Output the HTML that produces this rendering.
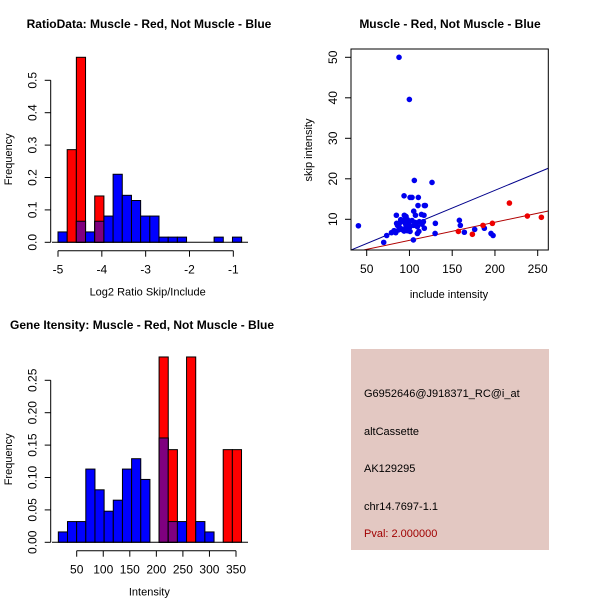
<!DOCTYPE html>
<html><head><meta charset="utf-8"><style>
html,body{margin:0;padding:0;background:#fff}
svg{display:block;font-family:"Liberation Sans",sans-serif}
</style></head><body>
<svg id="c" width="600" height="600" xmlns="http://www.w3.org/2000/svg">
<rect width="600" height="600" fill="#fff"/>
<text x="149" y="28" font-size="12" font-weight="bold" text-anchor="middle">RatioData: Muscle - Red, Not Muscle - Blue</text>
<text x="450" y="28" font-size="12" font-weight="bold" text-anchor="middle">Muscle - Red, Not Muscle - Blue</text>
<text x="10" y="329" font-size="12" font-weight="bold">Gene Itensity: Muscle - Red, Not Muscle - Blue</text>
<g id="h1"></g>
<g id="sc"></g>
<g id="h2"></g>
<g>
<rect x="351" y="349" width="198" height="201" fill="#e3c8c2"/>
<text x="364" y="397" font-size="11">G6952646@J918371_RC@i_at</text>
<text x="364" y="435" font-size="11">altCassette</text>
<text x="364" y="472" font-size="11">AK129295</text>
<text x="364" y="510" font-size="11">chr14.7697-1.1</text>
<text x="364" y="537" font-size="11" fill="#a00000">Pval: 2.000000</text>
</g>
</svg>
<script>
// Ratio histogram data
const ratioBinStart=-5.0, ratioBinWidth=0.2095;
const ratioBlue=[0.032,0,0.065,0.032,0.065,0.081,0.21,0.145,0.129,0.081,0.081,0.016,0.016,0.016,0,0,0,0.016,0,0.016];
const ratioRed=[0,0.286,0.571,0,0.143,0,0,0,0,0,0,0,0,0,0,0,0,0,0,0];
const ratioXTicks=[-5,-4,-3,-2,-1];
const ratioYTicks=[0,0.1,0.2,0.3,0.4,0.5];
// Intensity histogram data
const intBinStart=15.4, intBinWidth=17.25;
const intBlue=[0.016,0.032,0.032,0.113,0.081,0.048,0.065,0.113,0.129,0.097,0,0.161,0.032,0.032,0,0.032,0.016,0,0,0];
const intRed=[0,0,0,0,0,0,0,0,0,0,0,0.286,0.143,0,0.286,0,0,0,0.143,0.143];
const intXTicks=[50,100,150,200,250,300,350];
const intYTicks=[0,0.05,0.1,0.15,0.2,0.25];
// Scatter data
const blueX=[87.8,99.9,40.3,69.9,73.4,79,82,84,84.7,85,93.7,94,96,100.7,103,105.7,105,107,110.4,110,117.4,118.6,114,117,126.4,130.3,130,104.6,109.3,111,117.4,
86,87.8,89,90,92,87.5,93.7,96,97.4,99,100.7,103,105,107,109.3,111.6,114.7,116.3,89.8,92.3,95.3,97.7,100.7,94.5,
158.4,159.5,164.2,176.3,187.6,195.4,197.8];
const blueY=[50,39.6,8.4,4.3,6.0,6.7,7.2,6.7,11,9,15.8,11,10.7,15.4,15.4,19.6,12,11,15.4,13.4,13.4,13.4,11.2,11,19.1,9,6.5,4.9,6.5,7,7.8,
8.5,8.2,9.2,7.7,7.4,7.4,7.1,8.1,7.2,9.0,8.2,9.7,8.5,9.2,8.2,9.4,8.8,9.4,9.9,9.5,8.9,9.9,7.0,9.9,
9.75,8.5,6.8,7.5,7.8,6.5,6.0];
const redX=[157.2,173.6,186,197,216.9,237.9,254.3];
const redY=[7.0,6.3,8.5,9,14,10.8,10.5];
const blueFit=[-0.35,0.0875], redFit=[0.35,0.0446];
const scXTicks=[50,100,150,200,250], scYTicks=[10,20,30,40,50];

const NS='http://www.w3.org/2000/svg';
function mk(p,t,a){const e=document.createElementNS(NS,t);for(const k in a)e.setAttribute(k,a[k]);p.appendChild(e);return e;}

function hist(g,o){
  const X=v=>o.x0+(v-o.xa)*o.sx, Y=v=>o.y0-v*o.sy;
  for(let i=0;i<o.blue.length;i++){
    const l=X(o.bs+i*o.bw), r=X(o.bs+(i+1)*o.bw), b=o.blue[i], rd=o.red[i];
    if(b>0){const e=mk(g,'rect',{x:l,y:Y(b),width:r-l,height:Y(0)-Y(b),fill:'#0000ff',stroke:'#000','stroke-width':1});
      
      }
    if(rd>0){const e=mk(g,'rect',{x:l,y:Y(rd),width:r-l,height:Y(0)-Y(rd),fill:'#ff0000',stroke:'#000','stroke-width':1});
      
      }
    if(b>0&&rd>0){const m=Math.min(b,rd);const e=mk(g,'rect',{x:l,y:Y(m),width:r-l,height:Y(0)-Y(m),fill:'#7f007f',stroke:'#000','stroke-width':1});
      
      }
  }
  mk(g,'line',{x1:o.bl0,x2:o.bl1,y1:Y(0),y2:Y(0),stroke:'#000'});
  const ax=o.xt;
  mk(g,'line',{x1:X(ax[0]),x2:X(ax[ax.length-1]),y1:o.xay,y2:o.xay,stroke:'#000'});
  ax.forEach(v=>{mk(g,'line',{x1:X(v),x2:X(v),y1:o.xay,y2:o.xay+6,stroke:'#000'});
    const t=mk(g,'text',{x:X(v),y:o.xay+23,'font-size':12,'text-anchor':'middle'});t.textContent=v;
    
    });
  const yt=o.yt;
  mk(g,'line',{x1:o.yax,x2:o.yax,y1:Y(yt[0]),y2:Y(yt[yt.length-1]),stroke:'#000'});
  yt.forEach(v=>{mk(g,'line',{x1:o.yax,x2:o.yax-6,y1:Y(v),y2:Y(v),stroke:'#000'});
    const t=mk(g,'text',{x:0,y:0,'font-size':12,'text-anchor':'middle',transform:`translate(${o.yax-14},${Y(v)}) rotate(-90)`});t.textContent=v.toFixed(o.dec);
    
    });
  const xl=mk(g,'text',{x:(X(ax[0])+X(ax[ax.length-1]))/2+o.xlOff,y:o.xay+45,'font-size':11,'text-anchor':'middle'});xl.textContent=o.xlab;
  
  
  const yl=mk(g,'text',{x:0,y:0,'font-size':11,'text-anchor':'middle',transform:`translate(12,${(Y(0)+Y(yt[yt.length-1]))/2-2}) rotate(-90)`});yl.textContent='Frequency';
  
  
}
hist(document.getElementById('h1'),{x0:58,xa:-5,sx:43.83,y0:242.3,sy:324,bs:ratioBinStart,bw:ratioBinWidth,blue:ratioBlue,red:ratioRed,
  xt:ratioXTicks,yt:ratioYTicks,xay:250.7,yax:50.7,dec:1,bl0:52,bl1:248,xlab:'Log2 Ratio Skip/Include',xlOff:2});
hist(document.getElementById('h2'),{x0:76.7,xa:50,sx:0.531,y0:542.3,sy:648,bs:intBinStart,bw:intBinWidth,blue:intBlue,red:intRed,
  xt:intXTicks,yt:intYTicks,xay:550.7,yax:50.7,dec:2,bl0:52,bl1:248,xlab:'Intensity',xlOff:-7});

(function(){
  const g=document.getElementById('sc');
  const X=v=>366.7+(v-50)*0.855, Y=v=>219.3-(v-10)*4.05;
  const L=351,R=548.3,T=49,B=250;
  const cp=mk(g,'clipPath',{id:'cl'});mk(cp,'rect',{x:L,y:T,width:R-L,height:B-T});
  const lg=mk(g,'g',{'clip-path':'url(#cl)'});
  const x0=(L-366.7)/0.855+50, x1=(R-366.7)/0.855+50;
  const bl=mk(lg,'line',{x1:X(x0),x2:X(x1),y1:Y(blueFit[0]+blueFit[1]*x0),y2:Y(blueFit[0]+blueFit[1]*x1),stroke:'#00008b'});
  
  
  const rl=mk(lg,'line',{x1:X(x0),x2:X(x1),y1:Y(redFit[0]+redFit[1]*x0),y2:Y(redFit[0]+redFit[1]*x1),stroke:'#b00000'});
  
  
  blueX.forEach((v,i)=>{const c=mk(g,'circle',{cx:X(v),cy:Y(blueY[i]),r:2.8,fill:'#0000ee'});
    
    });
  redX.forEach((v,i)=>{const c=mk(g,'circle',{cx:X(v),cy:Y(redY[i]),r:2.8,fill:'#ee0000'});
    
    });
  mk(g,'rect',{x:L,y:T,width:R-L,height:B-T,fill:'none',stroke:'#000'});
  scXTicks.forEach(v=>{mk(g,'line',{x1:X(v),x2:X(v),y1:B,y2:B+6,stroke:'#000'});
    const t=mk(g,'text',{x:X(v),y:B+23,'font-size':12,'text-anchor':'middle'});t.textContent=v;
    
    });
  scYTicks.forEach(v=>{mk(g,'line',{x1:L,x2:L-6,y1:Y(v),y2:Y(v),stroke:'#000'});
    const t=mk(g,'text',{x:0,y:0,'font-size':12,'text-anchor':'middle',transform:`translate(${L-14},${Y(v)}) rotate(-90)`});t.textContent=v;
    
    });
  const xl=mk(g,'text',{x:449,y:298,'font-size':11,'text-anchor':'middle'});xl.textContent='include intensity';
  
  
  const yl=mk(g,'text',{x:0,y:0,'font-size':11,'text-anchor':'middle',transform:'translate(312,150) rotate(-90)'});yl.textContent='skip intensity';
  
  
})();
</script>
</body></html>
